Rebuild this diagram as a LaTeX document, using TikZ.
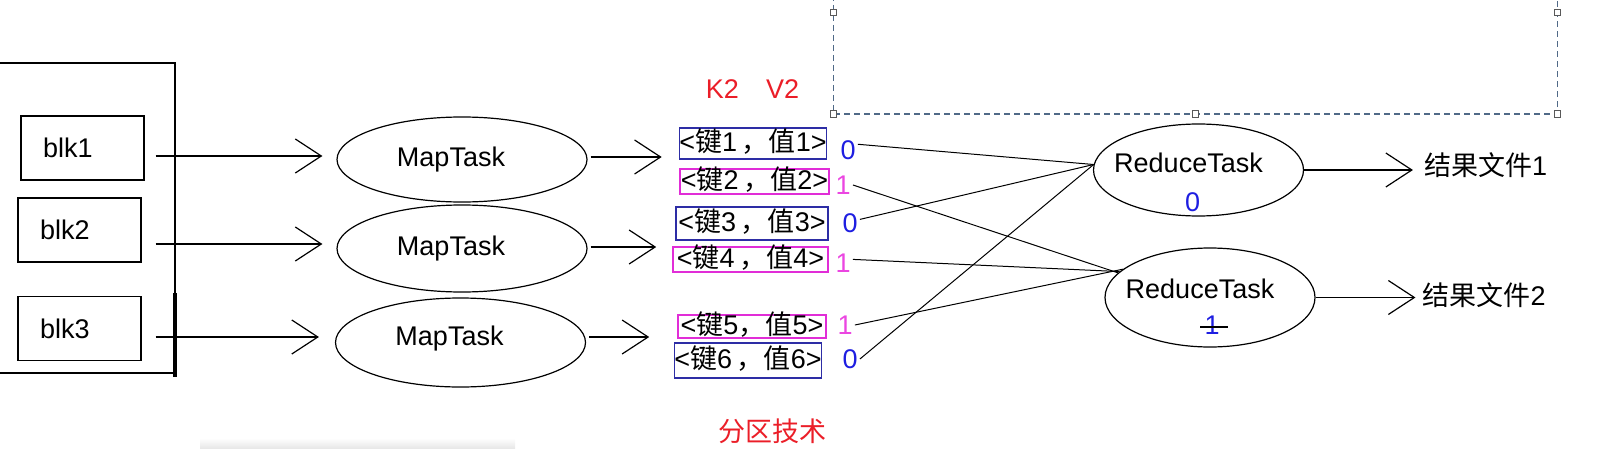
\documentclass[tikz,border=0pt]{standalone}
\usepackage{fontspec}
\setmainfont{Liberation Sans}
\newfontfamily\cjk{Noto Sans CJK SC}
\usetikzlibrary{arrows.meta,shapes.geometric,positioning}

\definecolor{kvblue}{RGB}{45,45,165}
\definecolor{kvpink}{RGB}{225,45,215}
\definecolor{numblue}{RGB}{30,30,225}
\definecolor{numpink}{RGB}{235,70,225}
\definecolor{kred}{RGB}{235,30,40}
\definecolor{selgray}{RGB}{80,105,135}

% key/value pair as printed in the boxes
\newcommand\kv[2]{<{\cjk 键}#1\,{\cjk ，值}#2>}

\begin{document}
\begin{tikzpicture}[x=0.5pt,y=-0.5pt,
    every node/.style={font=\fontsize{13.5}{16}\selectfont},
    blk/.style={draw,line width=0.6pt,minimum width=61.5pt,minimum height=32pt,
      inner xsep=11pt,text width=39.5pt,align=left},
    maptask/.style={draw,ellipse,line width=0.6pt,minimum width=125pt,inner sep=0pt},
    reducetask/.style={draw,ellipse,line width=0.6pt,minimum width=105pt,inner sep=0pt},
    pair/.style={draw,line width=0.8pt,inner sep=0pt,text height=9.5pt,text depth=2pt},
    num/.style={inner sep=1pt},
    flow/.style={-{Straight Barb[length=13pt,width=17pt]},line width=0.6pt},
    link/.style={line width=0.5pt},
    handle/.style={draw=gray!70!black,fill=white,line width=0.5pt}]

      \useasboundingbox (0,0) rectangle (1620,449);

      % dashed selection frame at the top
      \draw[selgray,dashed,dash pattern=on 3pt off 2pt,line width=0.5pt]
        (833,-5) -- (833,114) -- (1557,114) -- (1557,-5);
      \foreach \hx/\hy in {833/13,1557/13,833/114,1195/114,1557/114}
        \draw[handle] (\hx,\hy) ++(-3,-3) rectangle ++(6,6);

      % soft shadow at the bottom
      \shade[top color=white,bottom color=black!10] (200,438) rectangle (515,449);

      % file with its blocks
      \draw[line width=0.6pt] (-5,63) -- (175,63) -- (175,373) -- (-5,373);
      \draw[line width=1.6pt] (175,293) -- (175,377);
      \node[blk] (blk1) at (82.5,148) {blk1};
      \node[blk] (blk2) at (79.5,230) {blk2};
      \node[blk] (blk3) at (79.5,328.5) {blk3};

      % map tasks
      \node[maptask,minimum height=42.5pt] (m1) at (462,159.5) {};
      \node[maptask,minimum height=43.5pt] (m2) at (462,248.5) {};
      \node[maptask,minimum height=44.5pt] (m3) at (460.5,342.5) {};
      \node (m1name) at ([xshift=-5.5pt]m1.center) {MapTask};
      \node (m2name) at ([xshift=-5.5pt]m2.center) {MapTask};
      \node (m3name) at ([xshift=-5.5pt,yshift=2pt]m3.center) {MapTask};

      \draw[flow,shorten <=5.5pt,shorten >=7pt] (blk1.east |- 0,156) -- (m1.west |- 0,156);
      \draw[flow,shorten <=7pt,shorten >=7pt] (blk2.east |- 0,244) -- (m2.west |- 0,244);
      \draw[flow,shorten <=7pt,shorten >=8pt] (blk3.east |- 0,337) -- (m3.west |- 0,337);

      % map output, K2 V2
      \node[text=kred] (k2v2) at (752.5,89) {K2\quad V2};
      \node[pair,draw=kvblue,minimum width=71pt,minimum height=15.5pt] (p1) at (753,143.5) {\kv{1}{1}};
      \node[pair,draw=kvpink,minimum width=74.5pt,minimum height=12.5pt] (p2) at (754.5,181.5) {\kv{2}{2}};
      \node[pair,draw=kvblue,minimum width=76pt,minimum height=16.5pt] (p3) at (752,223.5) {\kv{3}{3}};
      \node[pair,draw=kvpink,minimum width=77.5pt,minimum height=12.5pt] (p4) at (750.5,259.5) {\kv{4}{4}};
      \node[pair,draw=kvpink,minimum width=74pt,minimum height=11.5pt] (p5) at (752,326.5) {<{\cjk 键}5{\cjk ，值}5>};
      \node[pair,draw=kvblue,minimum width=70pt,minimum height=17.5pt] (p6) at (748,360.5) {\kv{6}{6}};
      \node[text=kred] (fenqu) at (772.5,431) {\cjk 分区技术};

      \draw[flow,shorten <=1.5pt,shorten >=8.5pt] (m1.east |- 0,157) -- (p1.west |- 0,157);
      \draw[flow,shorten <=1.5pt,shorten >=9.5pt] (m2.east |- 0,247) -- (p3.west |- 0,247);
      \draw[flow,shorten <=1.5pt,shorten >=14pt] (m3.east |- 0,337) -- (p5.west |- 0,337);

      % partition numbers
      \node[num,text=numblue] (n1) at (848,150) {0};
      \node[num,text=numpink] (n2) at (843,185) {1};
      \node[num,text=numblue] (n3) at (850,223) {0};
      \node[num,text=numpink] (n4) at (843,263) {1};
      \node[num,text=numpink] (n5) at (845,325) {1};
      \node[num,text=numblue] (n6) at (850,359) {0};

      % reduce tasks
      \node[reducetask,minimum height=46pt] (r0) at (1198.5,170) {};
      \node (r0name) at ([xshift=-5pt,yshift=3.5pt]r0.center) {ReduceTask};
      \node[text=numblue] (r0num) at ([xshift=-3pt,yshift=-16pt]r0.center) {0};
      \node[reducetask,minimum height=49.5pt] (r1) at (1210,297.5) {};
      \node (r1name) at ([xshift=-5pt,yshift=4.25pt]r1.center) {ReduceTask};
      \node[text=numblue] (r1num) at ([xshift=1pt,yshift=-13.75pt]r1.center) {1};
      \draw[line width=0.6pt] ([xshift=-6pt,yshift=-1pt]r1num.center) -- ([xshift=8pt,yshift=-1pt]r1num.center);

      \draw[link] (n1.30) -- (r0.177);
      \draw[link] (n3.20) -- (r0.177);
      \draw[link] (n6.east) -- (r0.177);
      \draw[link] (n2.east) -- (r1.165);
      \draw[link] (n4.20) -- (r1.164);
      \draw[link] (n5.east) -- (r1.162);

      % result files
      \node (o1) at (1485.5,165) {{\cjk 结果文件}1};
      \node (o2) at (1484,295) {{\cjk 结果文件}2};
      \draw[flow,shorten >=2pt] (r0.east) -- (o1.west |- r0.east);
      \draw[flow] (r1.east) -- (o2.west |- r1.east);
\end{tikzpicture}
\end{document}
